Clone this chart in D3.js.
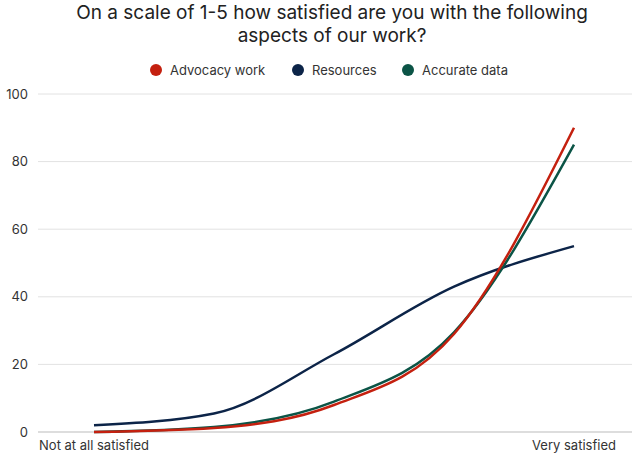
<!DOCTYPE html>
<html><head><meta charset="utf-8">
<script src="https://cdn.jsdelivr.net/npm/d3@7"></script>
<style>body{margin:0;background:#fff;font-family:Inter,"Noto Sans",sans-serif;}</style>
</head><body><svg id="c" width="637" height="456"></svg>
<script>
const categories = ["Not at all satisfied","2","3","4","Very satisfied"];
const advocacy = [0, 1.2, 8, 29, 90];
const resources = [2, 5.5, 23, 43, 55];
const accurate = [0, 1.5, 9, 29.5, 85];
const yTicks = [0,20,40,60,80,100];
const seriesNames = ["Advocacy work","Resources","Accurate data"];
const colors = ["#c4200f","#0c2448","#0b5446"];
const series = [advocacy, resources, accurate];

const svg = d3.select("#c");
const x = d3.scalePoint().domain(categories).range([94,574]);
const y = d3.scaleLinear().domain([0,100]).range([432,94]);

svg.append("text").attr("x",332).attr("y",19).attr("text-anchor","middle").attr("font-size",19).attr("fill","#222").text("On a scale of 1-5 how satisfied are you with the following");
svg.append("text").attr("x",332).attr("y",42).attr("text-anchor","middle").attr("font-size",19).attr("fill","#222").text("aspects of our work?");

yTicks.forEach(t=>{
  svg.append("line").attr("x1",38).attr("x2",632).attr("y1",y(t)).attr("y2",y(t)).attr("stroke",t===0?"#bbb":"#e2e2e2");
  svg.append("text").attr("x",28).attr("y",y(t)+4.5).attr("text-anchor","end").attr("font-size",13).attr("fill","#333").text(t);
});
[categories[0],categories[4]].forEach(c=>{
  svg.append("text").attr("x",x(c)).attr("y",450).attr("text-anchor","middle").attr("font-size",13).attr("fill","#333").text(c);
});

const legX=[156,298,408];
seriesNames.forEach((n,i)=>{
  svg.append("circle").attr("cx",legX[i]).attr("cy",70).attr("r",6).attr("fill",colors[i]);
  svg.append("text").attr("x",legX[i]+14).attr("y",74.5).attr("font-size",13).attr("fill","#333").text(n);
});

const line = d3.line().x((d,i)=>x(categories[i])).y(d=>y(d)).curve(d3.curveMonotoneX);
[1,2,0].forEach(i=>{
  svg.append("path").attr("d",line(series[i])).attr("fill","none").attr("stroke",colors[i]).attr("stroke-width",2.5);
});
</script></body></html>
